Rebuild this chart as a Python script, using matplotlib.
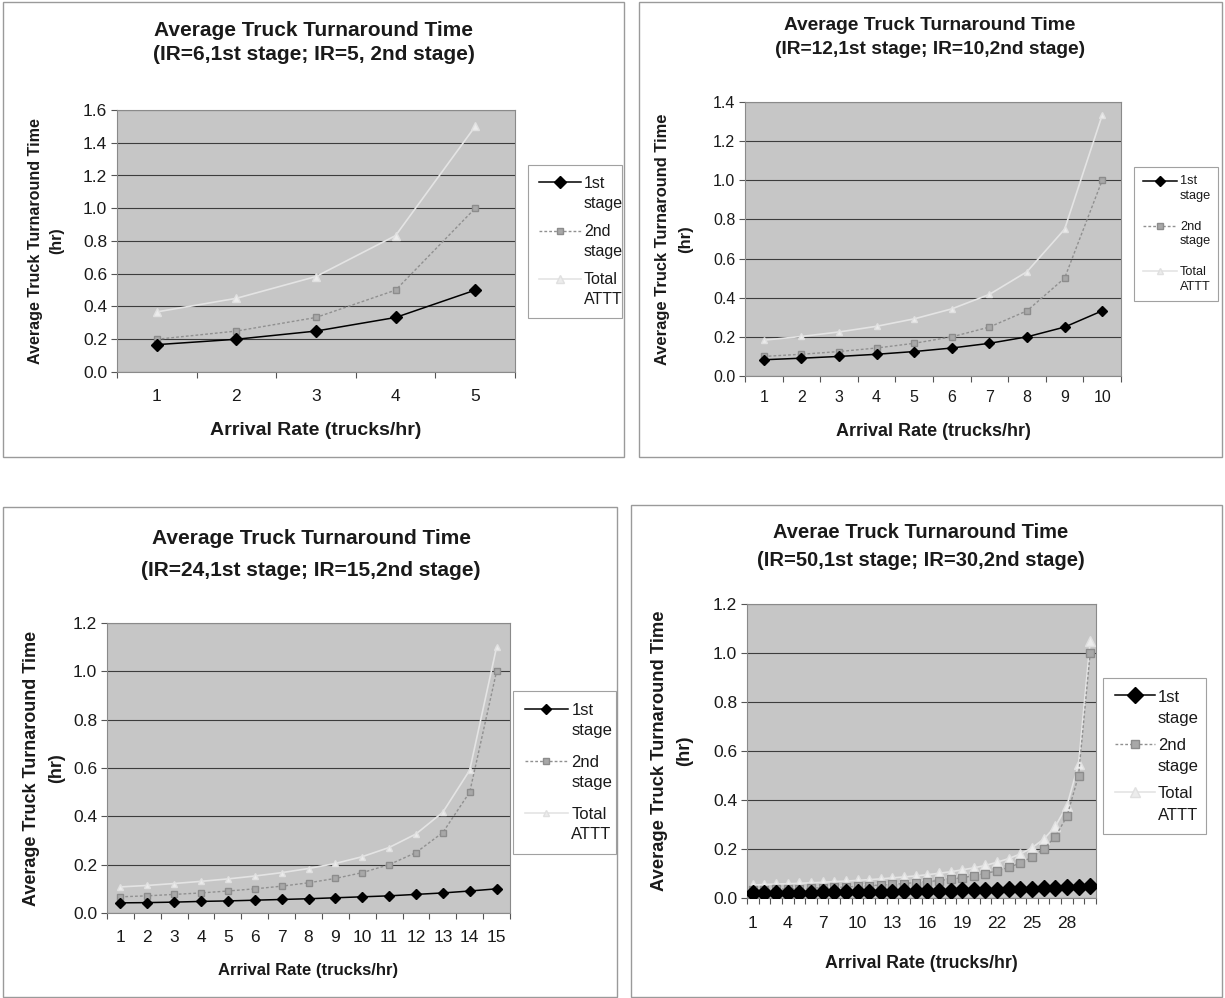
import matplotlib
matplotlib.use("Agg")
import numpy as np
import matplotlib.pyplot as plt
from matplotlib import font_manager
from matplotlib.patches import Rectangle
from matplotlib.legend_handler import HandlerLine2D
from matplotlib.ticker import FixedLocator, FormatStrFormatter

# ---------------- data ----------------
p1_x = [1, 2, 3, 4, 5]
p1_s1 = [0.167, 0.200, 0.250, 0.333, 0.500]
p1_s2 = [0.200, 0.250, 0.333, 0.500, 1.000]
p1_tot = [0.367, 0.450, 0.583, 0.833, 1.500]

p2_x = list(range(1, 11))
p2_s1 = [0.083, 0.091, 0.100, 0.111, 0.125, 0.143, 0.167, 0.200, 0.250, 0.333]
p2_s2 = [0.100, 0.111, 0.125, 0.143, 0.167, 0.200, 0.250, 0.333, 0.500, 1.000]
p2_tot = [0.183, 0.202, 0.225, 0.254, 0.292, 0.343, 0.417, 0.533, 0.750, 1.333]

p3_x = list(range(1, 16))
p3_s1 = [0.042, 0.043, 0.045, 0.048, 0.050, 0.053, 0.056, 0.059, 0.063, 0.067,
         0.071, 0.077, 0.083, 0.091, 0.100]
p3_s2 = [0.067, 0.071, 0.077, 0.083, 0.091, 0.100, 0.111, 0.125, 0.143, 0.167,
         0.200, 0.250, 0.333, 0.500, 1.000]
p3_tot = [0.108, 0.114, 0.122, 0.131, 0.141, 0.153, 0.167, 0.184, 0.205, 0.233,
          0.271, 0.327, 0.417, 0.591, 1.100]

p4_x = list(range(1, 31))
p4_s1 = [0.020, 0.020, 0.021, 0.021, 0.022, 0.022, 0.023, 0.023, 0.024, 0.024,
         0.025, 0.026, 0.026, 0.027, 0.028, 0.029, 0.029, 0.030, 0.031, 0.032,
         0.033, 0.034, 0.036, 0.037, 0.038, 0.040, 0.042, 0.043, 0.045, 0.048]
p4_s2 = [0.033, 0.034, 0.036, 0.037, 0.038, 0.040, 0.042, 0.043, 0.045, 0.048,
         0.050, 0.053, 0.056, 0.059, 0.063, 0.067, 0.071, 0.077, 0.083, 0.091,
         0.100, 0.111, 0.125, 0.143, 0.167, 0.200, 0.250, 0.333, 0.500, 1.000]
p4_tot = [0.053, 0.055, 0.057, 0.058, 0.060, 0.062, 0.064, 0.067, 0.069, 0.072,
          0.075, 0.078, 0.082, 0.086, 0.090, 0.095, 0.101, 0.107, 0.115, 0.123,
          0.133, 0.146, 0.161, 0.180, 0.205, 0.240, 0.292, 0.377, 0.546, 1.048]

titles = ["Average Truck Turnaround Time\n(IR=6,1st stage; IR=5, 2nd stage)",
          "Average Truck Turnaround Time\n(IR=12,1st stage; IR=10,2nd stage)",
          "Average Truck Turnaround Time\n(IR=24,1st stage; IR=15,2nd stage)",
          "Averae Truck Turnaround Time\n(IR=50,1st stage; IR=30,2nd stage)"]
series_labels = ["1st\nstage", "2nd\nstage", "Total\nATTT"]
y_label = "Average Truck Turnaround Time\n(hr)"
x_label = "Arrival Rate (trucks/hr)"

# ---------------- fonts ----------------
avail = {f.name for f in font_manager.fontManager.ttflist}
REG = "Liberation Sans" if "Liberation Sans" in avail else "DejaVu Sans"

W, H = 1225, 998
fig = plt.figure(figsize=(W / 100, H / 100), dpi=100)
fig.patch.set_facecolor("white")


def fx(x):
    return x / W


def fy(y):
    return 1 - y / H


def box(l, t, r, b):
    fig.patches.append(Rectangle((fx(l), fy(b)), fx(r) - fx(l), fy(t) - fy(b),
                                 transform=fig.transFigure, fill=False,
                                 edgecolor="#9a9a9a", linewidth=1.0))


class OffsetHandler(HandlerLine2D):
    def __init__(self, dy_frac=0.6, **kw):
        super().__init__(**kw)
        self.dy_frac = dy_frac

    def create_artists(self, legend, orig_handle, xdescent, ydescent, width,
                       height, fontsize, trans):
        arts = super().create_artists(legend, orig_handle, xdescent, ydescent,
                                      width, height, fontsize, trans)
        for a in arts:
            a.set_ydata(np.asarray(a.get_ydata(), dtype=float)
                        + self.dy_frac * fontsize)
        return arts


panels = [
    dict(x=p1_x, s=[p1_s1, p1_s2, p1_tot], plot=(117, 110, 515, 372), ymax=1.6,
         chart=(3, 2, 624, 457), leg=(528, 157, 622, 326), title_y=(30, 55),
         title_x=314, tfs=15, tickfs=12.5, legfs=11.5, xlfs=14, ylfs=11.6,
         ylab_x=(36, 57), xlab_y=431, tick_every=1, ms=6, tick_pad=12,
         lsp=1.4, labsp=0.85, hl=2.6),
    dict(x=p2_x, s=[p2_s1, p2_s2, p2_tot], plot=(745, 102, 1121, 376), ymax=1.4,
         chart=(639, 2, 1222, 457), leg=(1134, 163, 1218, 305), title_y=(25, 49),
         title_x=930, tfs=13.8, tickfs=11.5, legfs=9.2, xlfs=13, ylfs=11.9,
         ylab_x=(662, 686), xlab_y=432, tick_every=1, ms=5.5, tick_pad=10,
         lsp=1.25, labsp=1.5, hl=2.7),
    dict(x=p3_x, s=[p3_s1, p3_s2, p3_tot], plot=(107, 623, 510, 913), ymax=1.2,
         chart=(3, 507, 617, 997), leg=(513, 683, 616, 862), title_y=(539, 570),
         title_x=311, tfs=15, tickfs=12.5, legfs=12, xlfs=12, ylfs=13,
         ylab_x=(32, 57), xlab_y=970, tick_every=1, ms=5.5, tick_pad=12,
         lsp=1.45, labsp=1.0, hl=2.6),
    dict(x=p4_x, s=[p4_s1, p4_s2, p4_tot], plot=(747, 604, 1096, 898), ymax=1.2,
         chart=(631, 505, 1222, 997), leg=(1103, 669, 1206, 843), title_y=(532, 560),
         title_x=921, tfs=14.5, tickfs=12.5, legfs=12, xlfs=12.8, ylfs=13.2,
         ylab_x=(660, 685), xlab_y=963, tick_every=3, ms=8, tick_pad=13,
         lsp=1.5, labsp=0.75, hl=2.4),
]

for i, p in enumerate(panels):
    l, t, r, b = p["plot"]
    box(*p["chart"])
    ax = fig.add_axes([fx(l), fy(b), fx(r) - fx(l), fy(t) - fy(b)])
    ax.set_facecolor("#c6c6c6")
    x = p["x"]
    n = len(x)
    s1, s2, tot = p["s"]
    ms = p["ms"]
    h1, = ax.plot(x, s1, color="black", lw=1.1, marker="D", ms=ms,
                  mfc="black", mec="black", zorder=5)
    h2, = ax.plot(x, s2, color="#909090", lw=1.0, ls=(0, (2, 1.5)), marker="s",
                  ms=ms * 0.8, mfc="#a8a8a8", mec="#8c8c8c", zorder=4)
    h3, = ax.plot(x, tot, color="#e4e4e4", lw=1.2, marker="^", ms=ms * 0.9,
                  mfc="#ececec", mec="#e0e0e0", zorder=3)
    ax.set_xlim(0.5, n + 0.5)
    ax.set_ylim(0, p["ymax"])
    yt = [round(0.2 * k, 1) for k in range(int(round(p["ymax"] / 0.2)) + 1)]
    ax.set_yticks(yt)
    ax.yaxis.set_major_formatter(FormatStrFormatter("%.1f"))
    ax.yaxis.grid(True, color="#3c3c3c", lw=0.8)
    ax.set_axisbelow(True)
    shown = [v for v in x if (v - 1) % p["tick_every"] == 0]
    ax.set_xticks(shown)
    ax.set_xticklabels([str(v) for v in shown])
    ax.xaxis.set_minor_locator(FixedLocator([k + 0.5 for k in range(0, n + 1)]))
    ax.tick_params(axis="x", which="major", length=0, pad=p["tick_pad"],
                   labelsize=p["tickfs"])
    ax.tick_params(axis="x", which="minor", length=4, direction="out",
                   color="#555555", width=0.8)
    ax.tick_params(axis="y", which="major", length=4, direction="out",
                   color="#555555", labelsize=p["tickfs"], pad=3)
    for lab in ax.get_xticklabels() + ax.get_yticklabels():
        lab.set_fontfamily(REG)
        lab.set_color("#1a1a1a")
    for sp in ax.spines.values():
        sp.set_color("#8a8a8a")
        sp.set_linewidth(0.8)

    # title
    for ty, txt in zip(p["title_y"], titles[i].split("\n")):
        fig.text(fx(p["title_x"]), fy(ty), txt, ha="center", va="center",
                 fontsize=p["tfs"], fontweight="bold", family=REG,
                 color="#1a1a1a")
    # y label
    yl = y_label.split("\n")
    yc = (t + b) / 2
    for xx, txt in zip(p["ylab_x"], yl):
        fig.text(fx(xx), fy(yc), txt, rotation=90, ha="center", va="center",
                 fontsize=p["ylfs"], fontweight="bold", family=REG,
                 color="#1a1a1a")
    # x label
    fig.text(fx((l + r) / 2), fy(p["xlab_y"]), x_label, ha="center",
             va="center", fontsize=p["xlfs"], fontweight="bold", family=REG,
             color="#1a1a1a")
    # legend
    ll, lt, lr, lb = p["leg"]
    hmap = {h: OffsetHandler(0.5 * p["lsp"]) for h in (h1, h2, h3)}
    leg = fig.legend([h1, h2, h3], series_labels, loc="center",
                     bbox_to_anchor=(fx(ll), fy(lb), fx(lr) - fx(ll),
                                     fy(lt) - fy(lb)),
                     bbox_transform=fig.transFigure, mode="expand",
                     prop={"family": REG, "size": p["legfs"]},
                     frameon=True, fancybox=False, borderaxespad=0,
                     handlelength=p["hl"], handletextpad=0.2,
                     labelspacing=p["labsp"], borderpad=0.7, handler_map=hmap)
    for txt in leg.get_texts():
        txt.set_linespacing(p["lsp"])
        txt.set_color("#1a1a1a")
    leg.get_frame().set_edgecolor("#8a8a8a")
    leg.get_frame().set_linewidth(0.8)

fig.savefig("out.png", dpi=100, facecolor="white")
